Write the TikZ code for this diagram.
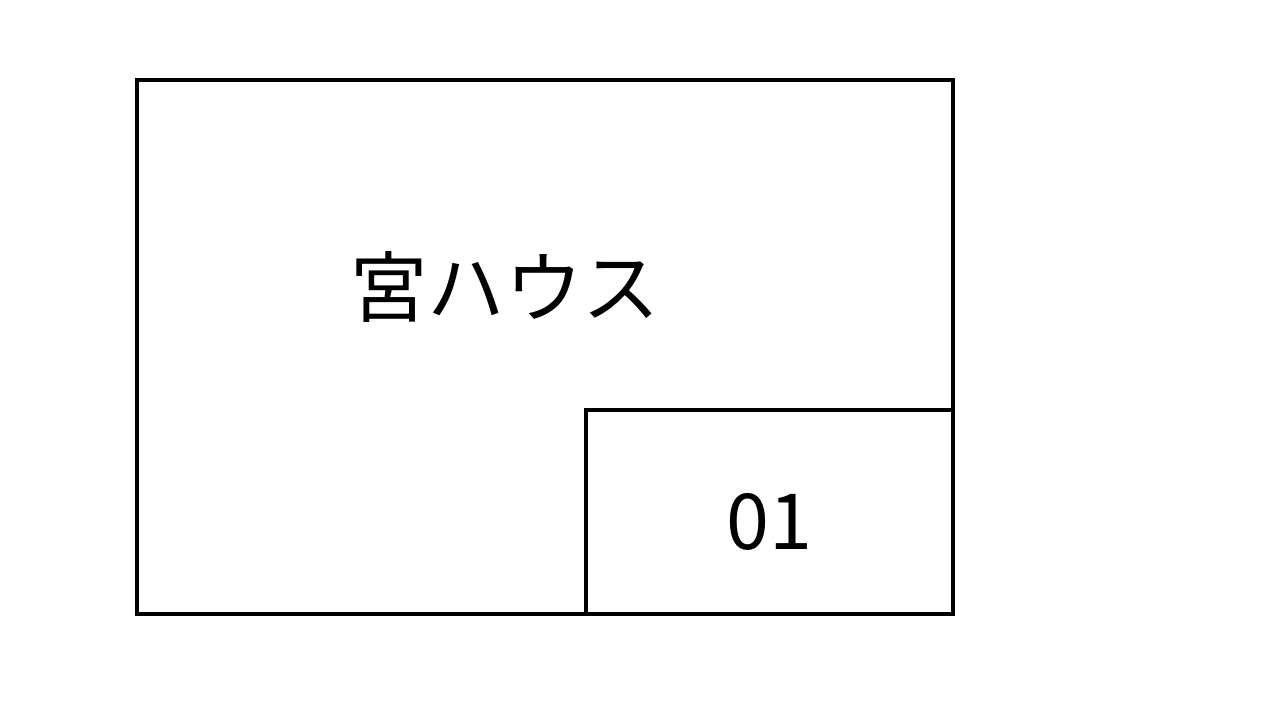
\documentclass[tikz,border=0pt]{standalone}
\usepackage{fontspec}
\newfontfamily\cjk{Noto Sans CJK JP}
\begin{document}
\begin{tikzpicture}
\useasboundingbox (0,0) rectangle (12.8,7.2);
\coordinate (outerSW) at (1.37,1.06);
\coordinate (outerNE) at (9.53,6.40);
\coordinate (roomSW) at (5.86,1.06);
\coordinate (roomNE) at (9.53,3.10);
\draw[line width=1.15pt] (outerSW) rectangle (outerNE);
\draw[line width=1.15pt] (roomSW) rectangle (roomNE);
\node (house) at (5.05,4.33) {\cjk\fontsize{22pt}{26pt}\selectfont 宮ハウス};
\node (room) at (7.69,1.98) {\cjk\fontsize{22pt}{26pt}\selectfont 01};
\end{tikzpicture}
\end{document}
